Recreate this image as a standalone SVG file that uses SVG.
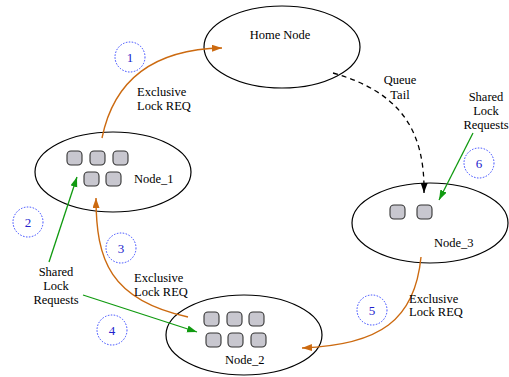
<svg xmlns="http://www.w3.org/2000/svg" width="509" height="377" viewBox="0 0 509 377">
<style>
.node{fill:#fff;stroke:#000;stroke-width:1.2}
.box{fill:#c8c7cf;stroke:#333;stroke-width:1.1}
text{font-family:'Liberation Serif','DejaVu Serif',serif}
.t{font-size:12.5px;fill:#000}
.num{font-size:13px;fill:#2222cc;text-anchor:middle}
.step{fill:none;stroke:#3344ff;stroke-width:1;stroke-dasharray:1.5,1.5}
.ex{fill:none;stroke:#cc6a10;stroke-width:1.4}
.sh{fill:none;stroke:#109a10;stroke-width:1.3}
.qt{fill:none;stroke:#000;stroke-width:1.3;stroke-dasharray:5,4}
</style>
<defs>
<marker id="ao" markerUnits="userSpaceOnUse" markerWidth="11" markerHeight="8" refX="10" refY="3.5" orient="auto"><path d="M0,0 L10,3.5 L0,7 z" fill="#cc6a10"/></marker>
<marker id="ag" markerUnits="userSpaceOnUse" markerWidth="11" markerHeight="8" refX="10" refY="3.5" orient="auto"><path d="M0,0 L10,3.5 L0,7 z" fill="#109a10"/></marker>
<marker id="ak" markerUnits="userSpaceOnUse" markerWidth="11" markerHeight="8" refX="10" refY="3.5" orient="auto"><path d="M0,0 L10,3.5 L0,7 z" fill="#000"/></marker>
</defs>
<g id="home">
<ellipse class="node" cx="282" cy="47" rx="78" ry="41"/>
<text class="t" x="280" y="39" text-anchor="middle">Home Node</text>
</g>
<g id="node1">
<ellipse class="node" cx="113" cy="172" rx="78" ry="40"/>
<rect class="box" x="67" y="151" width="15" height="14" rx="4"/>
<rect class="box" x="90" y="151" width="15" height="14" rx="4"/>
<rect class="box" x="113" y="151" width="15" height="14" rx="4"/>
<rect class="box" x="84" y="172" width="15" height="14" rx="4"/>
<rect class="box" x="106" y="172" width="15" height="14" rx="4"/>
<text class="t" x="134" y="183">Node_1</text>
</g>
<g id="node2">
<ellipse class="node" cx="244" cy="335" rx="78" ry="40"/>
<rect class="box" x="204" y="312" width="15" height="14" rx="4"/>
<rect class="box" x="227" y="312" width="15" height="14" rx="4"/>
<rect class="box" x="249" y="312" width="15" height="14" rx="4"/>
<rect class="box" x="206" y="333" width="15" height="14" rx="4"/>
<rect class="box" x="228" y="333" width="15" height="14" rx="4"/>
<rect class="box" x="251" y="333" width="15" height="14" rx="4"/>
<text class="t" x="225" y="364">Node_2</text>
</g>
<g id="node3">
<ellipse class="node" cx="430" cy="223" rx="78" ry="40"/>
<rect class="box" x="390" y="205" width="15" height="14" rx="4"/>
<rect class="box" x="417" y="205" width="15" height="14" rx="4"/>
<text class="t" x="434" y="247">Node_3</text>
</g>
<g id="connectors">
<path class="ex" d="M102,138 Q120,50 222,48" marker-end="url(#ao)"/>
<path class="qt" d="M333,73 C400,92 425,130 424,193" marker-end="url(#ak)"/>
<path class="ex" d="M188,317 C110,300 96,260 96,198" marker-end="url(#ao)"/>
<path class="ex" d="M421,257 C415,320 380,345 302,348" marker-end="url(#ao)"/>
<line class="sh" x1="49" y1="262" x2="77" y2="177" marker-end="url(#ag)"/>
<line class="sh" x1="83" y1="295" x2="197" y2="332" marker-end="url(#ag)"/>
<line class="sh" x1="473" y1="133" x2="439" y2="200" marker-end="url(#ag)"/>
</g>
<g id="labels">
<text class="t" x="137" y="96">Exclusive</text>
<text class="t" x="137" y="109.5">Lock REQ</text>
<text class="t" x="134" y="282">Exclusive</text>
<text class="t" x="134" y="295.5">Lock REQ</text>
<text class="t" x="409" y="302.5">Exclusive</text>
<text class="t" x="409" y="316">Lock REQ</text>
<text class="t" x="400" y="84" text-anchor="middle">Queue</text>
<text class="t" x="400" y="99" text-anchor="middle">Tail</text>
<text class="t" x="486" y="101" text-anchor="middle">Shared</text>
<text class="t" x="486" y="115" text-anchor="middle">Lock</text>
<text class="t" x="486" y="129" text-anchor="middle">Requests</text>
<text class="t" x="56" y="276" text-anchor="middle">Shared</text>
<text class="t" x="56" y="290" text-anchor="middle">Lock</text>
<text class="t" x="56" y="304" text-anchor="middle">Requests</text>
</g>
<g id="steps">
<circle class="step" cx="130" cy="57" r="15"/><text class="num" x="130" y="61.5">1</text>
<circle class="step" cx="28" cy="222" r="15"/><text class="num" x="28" y="226.5">2</text>
<circle class="step" cx="121" cy="248" r="15"/><text class="num" x="121" y="252.5">3</text>
<circle class="step" cx="112" cy="330" r="15"/><text class="num" x="112" y="334.5">4</text>
<circle class="step" cx="372" cy="310" r="15"/><text class="num" x="372" y="314.5">5</text>
<circle class="step" cx="479" cy="163" r="15"/><text class="num" x="479" y="167.5">6</text>
</g>
</svg>
